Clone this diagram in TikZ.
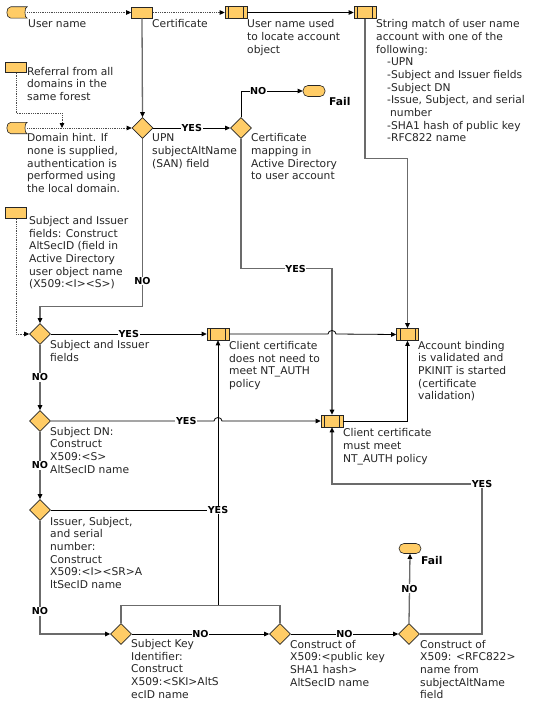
\documentclass[tikz,border=0pt]{standalone}
\usepackage{fontspec}
\setmainfont{DejaVu Sans}
\usetikzlibrary{shapes.geometric,arrows.meta}
\definecolor{boxfill}{HTML}{FFCC66}
\newcommand\dgfont{\fontsize{10.7pt}{12.7pt}\selectfont}
\newcommand\dglbl{\fontsize{9.6pt}{11pt}\selectfont\bfseries}
\begin{document}
\begin{tikzpicture}[x=1pt,y=-1pt,
  shp/.style={draw=black!85, line width=0.6pt, fill=boxfill, inner sep=0pt},
  proc/.style={shp, rectangle, minimum width=21pt, minimum height=11pt},
  pproc/.style={proc, minimum width=22pt, minimum height=12pt,
    path picture={\draw[black!85,line width=0.6pt]
      ([xshift=3.5pt]path picture bounding box.north west) -- ([xshift=3.5pt]path picture bounding box.south west)
      ([xshift=-3.5pt]path picture bounding box.north east) -- ([xshift=-3.5pt]path picture bounding box.south east);}},
  dec/.style={shp, diamond, minimum width=21pt, minimum height=21pt},
  term/.style={shp, rectangle, rounded corners=5pt, minimum width=22pt, minimum height=11pt},
  sdat/.style={inner sep=0pt, minimum width=20pt, minimum height=11pt},
  txt/.style={anchor=north west, inner sep=0pt, align=left, font=\dgfont, text=black!85},
  lbl/.style={font=\dglbl, fill=white, inner sep=0.6pt, text=black},
  blk/.style={draw=black, line width=0.8pt},
  gry/.style={draw=black!58, line width=1.3pt},
  dots/.style={draw=black!70, line width=0.8pt, dash pattern=on 0.9pt off 0.9pt},
  arr/.style={-{Triangle[length=5pt,width=4.5pt,color=black]}}
]
\fill[white] (0,0) rectangle (538,709);
\useasboundingbox (0,0) rectangle (538,709);

% shapes
\node[sdat] (un) at (17,12.5) {};
\node[proc] (cert) at (142,12.5) {};
\node[pproc] (unu) at (236,12.5) {};
\node[pproc] (sm) at (365,12.5) {};
\node[proc, minimum height=10pt] (ref) at (16,67.5) {};
\node[sdat] (dh) at (17,128) {};
\node[proc] (sif) at (16,213) {};
\node[dec] (upn) at (142.5,128) {};
\node[dec] (cmap) at (241,128) {};
\node[term] (f1) at (314,91) {};
\node[dec] (sid) at (40,334) {};
\node[pproc] (cnn) at (218,334) {};
\node[pproc] (ab) at (407.5,334.5) {};
\node[dec] (dn) at (40,421) {};
\node[pproc] (cmm) at (332,421) {};
\node[dec] (iss) at (40,510) {};
\node[dec] (ski) at (121,634) {};
\node[dec] (pk) at (280,634) {};
\node[dec] (rfc) at (409,634) {};
\node[term, minimum height=10pt] (f2) at (410,548.5) {};
\foreach \n in {un,dh}
  \path[shp] ([xshift=4pt]\n.north west) -- (\n.north east)
    .. controls ([xshift=-3pt]\n.north east) and ([xshift=-3pt]\n.south east) .. (\n.south east)
    -- ([xshift=4pt]\n.south west)
    .. controls ([xshift=-1.3pt]\n.south west) and ([xshift=-1.3pt]\n.north west) .. cycle;

% texts
\node[txt] (t-un) at (28,18.6) {\strut User name};
\node[txt] (t-cert) at (152,18.6) {\strut Certificate};
\node[txt] (t-unu) at (247,18.6) {\strut User name used\\to locate account\\object};
\node[txt] (t-sm) at (376,18.6) {\strut String match of user name\\account with one of the\\following:\\\hspace*{11pt}-UPN\\\hspace*{11pt}-Subject and Issuer fields\\\hspace*{11pt}-Subject DN\\\hspace*{11pt}-Issue, Subject, and serial\\\hspace*{14pt}number\\\hspace*{11pt}-SHA1 hash of public key\\\hspace*{11pt}-RFC822 name};
\node[txt] (t-ref) at (27,66.1) {\strut Referral from all\\domains in the\\same forest};
\node[txt] (t-dh) at (27,132.6) {\strut Domain hint. If\\none is supplied,\\authentication is\\performed using\\the local domain.};
\node[txt] (t-upn) at (152,132.6) {\strut UPN\\subjectAltName\\(SAN) field};
\node[txt] (t-cmap) at (251,132.6) {\strut Certificate\\mapping in\\Active Directory\\to user account};
\node[txt] (t-sif) at (29,215.4) {\strut Subject and Issuer\\fields: Construct\\AltSecID (field in\\Active Directory\\user object name\\(X509:<I><S>)};
\node[txt] (t-sid) at (50,339.4) {\strut Subject and Issuer\\fields};
\node[txt] (t-cnn) at (229,340.4) {\strut Client certificate\\does not need to\\meet NT\_AUTH\\policy};
\node[txt] (t-ab) at (418,340.1) {\strut Account binding\\is validated and\\PKINIT is started\\(certificate\\validation)};
\node[txt] (t-dn) at (50,426.1) {\strut Subject DN:\\Construct\\X509:<S>\\AltSecID name};
\node[txt] (t-cmm) at (343,427.8) {\strut Client certificate\\must meet\\NT\_AUTH policy};
\node[txt] (t-iss) at (50,516.1) {\strut Issuer, Subject,\\and serial\\number:\\Construct\\X509:<I><SR>A\\ltSecID name};
\node[txt] (t-ski) at (131,638.4) {\strut Subject Key\\Identifier:\\Construct\\X509:<SKI>AltS\\ecID name};
\node[txt] (t-pk) at (290,639.1) {\strut Construct of\\X509:<public key\\SHA1 hash>\\AltSecID name};
\node[txt] (t-rfc) at (420,639.1) {\strut Construct of\\X509: <RFC822>\\name from\\subjectAltName\\field};
\node[txt, font=\dgfont\bfseries, text=black] (t-f1) at (329,96.1) {\strut Fail};
\node[txt, font=\dgfont\bfseries, text=black] (t-f2) at (421,555.1) {\strut Fail};

% connectors
\draw[dots,arr] (un.east) -- (cert.west);
\draw[dots,arr] (cert.east) -- (unu.west);
\draw[blk,arr] (unu.east) -- (sm.west);
\draw[gry,arr] (sm.south) -- ++(0,140) -| (ab.north);
\draw[gry,arr] (cert.south) -- (upn.north);
\coordinate (dj) at (62,128);
\draw[dots,arr] (ref.south) -- ++(0,40.5) -| (dj);
\draw[dots,arr] (dh.east) -- (upn.west);
\draw[blk,arr] (upn.east) -- node[lbl]{YES} (cmap.west);
\draw[blk,arr] (cmap.north) |- node[lbl,pos=0.64]{NO} (f1.west);
\draw[gry,arr] (cmap.south) -- ++(0,130) -| node[lbl,pos=0.3]{YES} (cmm.north);
\draw[gry,arr] (upn.south) -- node[lbl,pos=0.85]{NO} ++(0,167.5) -| (sid.north);
\draw[dots,arr] (sif.south) |- (sid.west);
\draw[blk,arr] (sid.east) -- node[lbl]{YES} (cnn.west);
\coordinate (h1) at (332,334);
\draw[blk,arr] (cnn.east) -- ([xshift=-4pt]h1) arc[start angle=180,end angle=0,x radius=4pt,y radius=3.5pt] -- (ab.west);
\draw[gry,arr] (sid.south) -- node[lbl]{NO} (dn.north);
\coordinate (j1) at (218,605.5);
\coordinate (j2) at (218,510);
\draw[blk,arr] (j1) -- (cnn.south);
\coordinate (h2) at (218,421);
\draw[blk,arr] (dn.east) -- node[lbl,pos=0.83]{YES} ([xshift=-4pt]h2) arc[start angle=180,end angle=0,x radius=4pt,y radius=3.5pt] -- (cmm.west);
\draw[gry,arr] (dn.south) -- node[lbl]{NO} (iss.north);
\draw[gry] (ski.north) |- (j1);
\draw[gry] (pk.north) |- (j1);
\draw[blk] (iss.east) -- node[lbl,pos=1]{YES} (j2);
\draw[gry,arr] (iss.south) |- node[lbl,pos=0.4]{NO} (ski.west);
\draw[blk,arr] (ski.east) -- node[lbl]{NO} (pk.west);
\draw[blk,arr] (pk.east) -- node[lbl]{NO} (rfc.west);
\draw[gry,arr] (rfc.north) -- node[lbl]{NO} (f2.south);
\coordinate (j3) at (482,484);
\draw[gry,arr] (rfc.east) -| (j3) -| node[lbl,pos=0]{YES} (cmm.south);
\draw[blk,arr] (cmm.east) -| (ab.south);
\end{tikzpicture}
\end{document}
